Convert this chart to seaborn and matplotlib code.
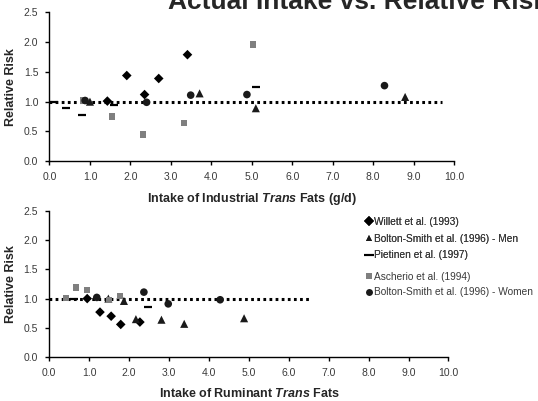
"""
Actual intake vs. relative risk: industrial and ruminant trans fats.
"""

import matplotlib
matplotlib.use('Agg')
import matplotlib.pyplot as plt
from matplotlib.lines import Line2D
import seaborn as sns

sns.set_style('ticks')
plt.rcParams['font.family'] = ['Liberation Sans', 'DejaVu Sans']
plt.rcParams['mathtext.fontset'] = 'custom'
plt.rcParams['mathtext.bfit'] = 'Liberation Sans:italic:bold'
plt.rcParams['mathtext.it'] = 'Liberation Sans:italic'
plt.rcParams['mathtext.bf'] = 'Liberation Sans:bold'

# ---- data: industrial trans fats (top panel) ----
willett_ind_x = [1.43, 1.91, 2.35, 2.70, 3.41]
willett_ind_y = [1.01, 1.44, 1.12, 1.39, 1.79]
men_ind_x = [1.00, 3.71, 5.10, 8.79]
men_ind_y = [1.00, 1.14, 0.89, 1.08]
pietinen_ind_x = [0.10, 0.41, 0.80, 1.60, 5.11]
pietinen_ind_y = [1.00, 0.89, 0.78, 0.95, 1.245]
ascherio_ind_x = [0.83, 1.55, 2.32, 3.33, 5.03]
ascherio_ind_y = [1.02, 0.75, 0.45, 0.645, 1.96]
women_ind_x = [0.88, 2.40, 3.49, 4.88, 8.28]
women_ind_y = [1.02, 0.99, 1.11, 1.12, 1.27]

# ---- data: ruminant trans fats (bottom panel) ----
willett_rum_x = [0.95, 1.27, 1.55, 1.79, 2.27]
willett_rum_y = [1.00, 0.77, 0.70, 0.56, 0.60]
men_rum_x = [1.48, 1.87, 2.17, 2.81, 3.38, 4.88]
men_rum_y = [1.00, 0.96, 0.65, 0.64, 0.57, 0.665]
pietinen_rum_x = [0.62, 2.48]
pietinen_rum_y = [1.00, 0.85]
ascherio_rum_x = [0.42, 0.67, 0.95, 1.50, 1.77]
ascherio_rum_y = [1.01, 1.19, 1.14, 0.97, 1.04]
women_rum_x = [1.19, 2.37, 2.98, 4.28]
women_rum_y = [1.02, 1.11, 0.91, 0.98]

ref_rr = 1.0
ref_end_ind = 9.7
ref_end_rum = 6.5

x_ticks = [0, 1, 2, 3, 4, 5, 6, 7, 8, 9, 10]
y_ticks = [0.0, 0.5, 1.0, 1.5, 2.0, 2.5]

labels = ['Willett et al. (1993)', 'Bolton-Smith et al. (1996) - Men',
          'Pietinen et al. (1997)', 'Ascherio et al. (1994)',
          'Bolton-Smith et al. (1996) - Women']

styles = {
    'willett': dict(marker='D', color='black', s=24),
    'men': dict(marker='^', color='#1a1a1a', s=34),
    'pietinen': dict(marker='_', color='black', s=36),
    'ascherio': dict(marker='s', color='#7f7f7f', s=20),
    'women': dict(marker='o', color='#1a1a1a', s=30),
}


def draw_panel(ax, series, ref_end, xlabel):
    ax.plot([0, ref_end], [ref_rr, ref_rr], color='black', lw=2.2,
            linestyle=(0, (0.9, 1.1)), zorder=1)
    for key, (xs, ys) in series.items():
        st = styles[key]
        if st['marker'] == '_':
            sns.scatterplot(x=xs, y=ys, ax=ax, marker='_', color=st['color'],
                            s=st['s'], linewidth=1.6, zorder=3)
        else:
            sns.scatterplot(x=xs, y=ys, ax=ax, marker=st['marker'],
                            color=st['color'], s=st['s'], edgecolor='none',
                            zorder=3)
    ax.set_xlim(0, 10)
    ax.set_ylim(0, 2.5)
    ax.set_xticks(x_ticks)
    ax.set_xticklabels([f'{v:.1f}' for v in x_ticks])
    ax.set_yticks(y_ticks)
    ax.set_yticklabels([f'{v:.1f}' for v in y_ticks])
    ax.tick_params(axis='both', labelsize=7.5, length=3, width=1,
                   colors='black', labelcolor='#3a3a3a', pad=5)
    for side in ['top', 'right']:
        ax.spines[side].set_visible(False)
    for side in ['left', 'bottom']:
        ax.spines[side].set_linewidth(1)
        ax.spines[side].set_color('black')
    ax.set_xlabel(xlabel, fontsize=9, fontweight='bold', labelpad=6)
    ax.set_ylabel('Relative Risk', fontsize=9, fontweight='bold', labelpad=5)


fig = plt.figure(figsize=(5.38, 4.01), dpi=100)
ax1 = fig.add_axes([0.092, 0.598, 0.752, 0.371])
ax2 = fig.add_axes([0.0916, 0.109, 0.742, 0.366])

draw_panel(ax1, {
    'willett': (willett_ind_x, willett_ind_y),
    'men': (men_ind_x, men_ind_y),
    'pietinen': (pietinen_ind_x, pietinen_ind_y),
    'ascherio': (ascherio_ind_x, ascherio_ind_y),
    'women': (women_ind_x, women_ind_y),
}, ref_end_ind, r'Intake of Industrial $\mathbfit{Trans}$ Fats (g/d)')

draw_panel(ax2, {
    'willett': (willett_rum_x, willett_rum_y),
    'men': (men_rum_x, men_rum_y),
    'pietinen': (pietinen_rum_x, pietinen_rum_y),
    'ascherio': (ascherio_rum_x, ascherio_rum_y),
    'women': (women_rum_x, women_rum_y),
}, ref_end_rum, r'Intake of Ruminant $\mathbfit{Trans}$ Fats')

# title is partly clipped by the top/right edge, as in the original
fig.text(168 / 538, 1 - 9 / 401, 'Actual Intake vs. Relative Risk',
         fontsize=19, fontweight='bold', ha='left', va='baseline')

# legend, split in two groups like the original
keys = ['willett', 'men', 'pietinen', 'ascherio', 'women']
handles = []
for k in keys:
    st = styles[k]
    handles.append(Line2D([], [], linestyle='none', marker=st['marker'],
                          color=st['color'],
                          markersize=5 if st['marker'] != '_' else 7,
                          markeredgewidth=1.5 if st['marker'] == '_' else 0))

leg_kw = dict(loc='upper left', frameon=False, fontsize=7.3,
              handlelength=0.5, handletextpad=0.25, borderpad=0,
              borderaxespad=0, labelcolor='#3a3a3a')
leg1 = fig.legend(handles[:3], labels[:3],
                  bbox_to_anchor=(366 / 538, 1 - 217 / 401),
                  labelspacing=0.66, **leg_kw)
fig.add_artist(leg1)
fig.legend(handles[3:], labels[3:],
           bbox_to_anchor=(366 / 538, 1 - 272 / 401),
           labelspacing=0.5, **leg_kw)

fig.savefig('out.png', dpi=100)
